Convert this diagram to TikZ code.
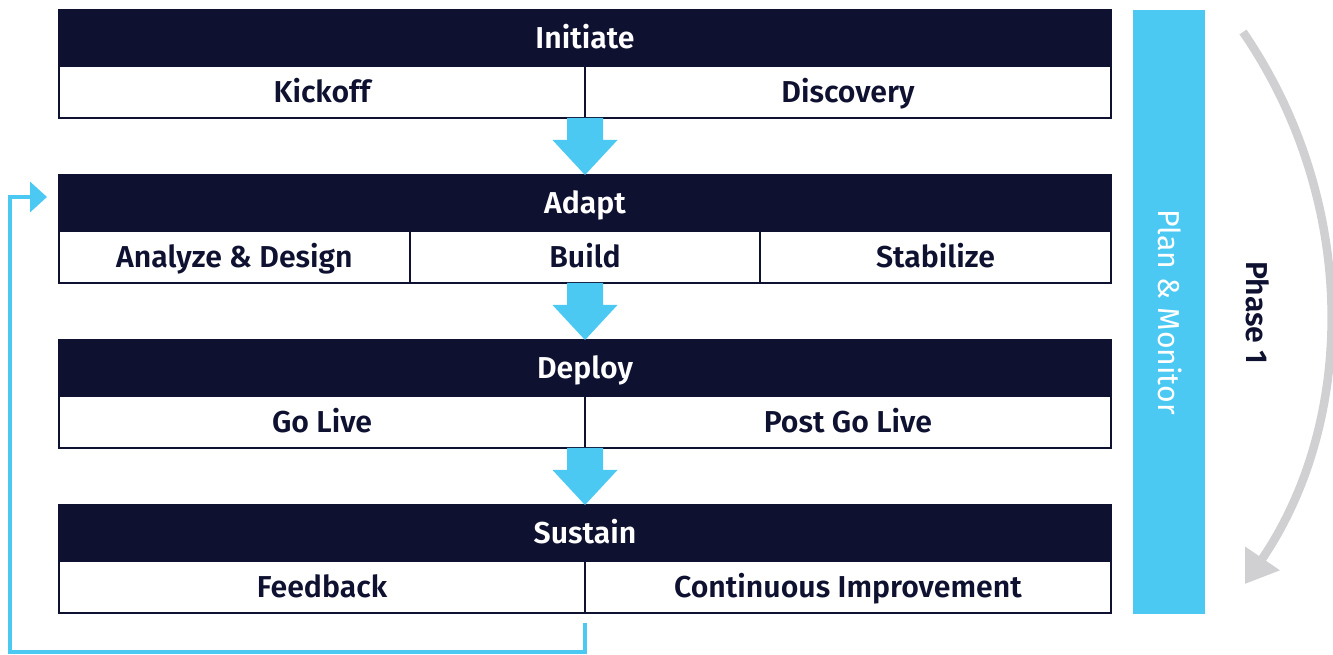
\documentclass[tikz,border=0pt]{standalone}
\usepackage{fontspec}
\setmainfont{Fira Sans}[BoldFont={Fira Sans SemiBold}]
\usetikzlibrary{positioning,calc,arrows.meta}
\definecolor{navy}{HTML}{0F1131}
\definecolor{skyblue}{HTML}{4CC9F3}
\definecolor{arcgray}{HTML}{D0D0D2}

\tikzset{
  stage/.style={fill=navy, draw=navy, line width=0.04cm, text=white,
    minimum width=21.04cm, minimum height=1.12cm, inner sep=0pt, outer sep=0pt,
    text height=11.9pt, text depth=0pt,
    font=\bfseries\fontsize{17.2}{19}\selectfont},
  cell/.style={draw=navy, line width=0.04cm, fill=white, text=navy,
    minimum height=1.04cm, inner sep=0pt, outer sep=0pt,
    text height=11.9pt, text depth=0pt,
    font=\bfseries\fontsize{17.2}{19}\selectfont},
  half/.style={cell, minimum width=10.52cm},
  third/.style={cell, minimum width=7.0133cm},
  flow/.style={fill=skyblue},
  loopline/.style={draw=skyblue, line width=0.075cm, miter limit=10,
    -{Triangle[length=0.34cm,width=0.6cm]}},
  bar/.style={fill=skyblue, text=white, minimum width=12.08cm, minimum height=1.44cm,
    inner sep=0pt, text height=11.9pt, text depth=0pt,
    font=\fontsize{17.2}{19}\selectfont},
  phasearc/.style={draw=arcgray, line width=0.17cm,
    -{Triangle[length=0.62cm,width=0.8cm]}}
}

\begin{document}
\begin{tikzpicture}[x=0.02cm, y=-0.02cm]
 \useasboundingbox (0,0) rectangle (1333,655);

 % stages
 \node[stage] (init) at (585,38) {Initiate};
 \node[half, below right=0 of init.south west] (kick) {Kickoff};
 \node[half, right=0 of kick] (disc) {Discovery};

 \node[stage] (adapt) at (585,203) {Adapt};
 \node[third, below right=0 of adapt.south west] (ana) {Analyze \& Design};
 \node[third, right=0 of ana] (build) {Build};
 \node[third, right=0 of build] (stab) {Stabilize};

 \node[stage] (deploy) at (585,368) {Deploy};
 \node[half, below right=0 of deploy.south west] (golive) {Go Live};
 \node[half, right=0 of golive] (post) {Post Go Live};

 \node[stage] (sustain) at (585,533) {Sustain};
 \node[half, below right=0 of sustain.south west] (feed) {Feedback};
 \node[half, right=0 of feed] (cont) {Continuous Improvement};

 % block arrows between stages
 \foreach \src/\dst in {kick.south east/adapt, build.south/deploy, golive.south east/sustain}
  \fill[flow] ($(\src)+(-18,0)$) -- ++(0,22) -- ++(-14.5,0) -- (\dst.north)
   -- ($(\src)+(32.5,22)$) -- ++(-14.5,0) -- ++(0,-22) -- cycle;

 % feedback loop back to Adapt
 \coordinate (fbtop) at ($(feed.south east)+(0,10)$);
 \coordinate (fbcorner) at (10,652);
 \coordinate (ret) at (47,197);
 \draw[loopline] (fbtop) |- (fbcorner) |- (ret);

 % side bar and phase arc
 \node[bar, rotate=-90] (pm) at (1169,312) {Plan \& Monitor};
 \node[rotate=-90, text=navy, font=\bfseries\fontsize{17.2}{19}\selectfont] (phase) at (1258,313) {Phase 1};
 \coordinate (arcstart) at (1243,32);
 \coordinate (arcend) at (1245,584);
 \draw[phasearc] (arcstart) .. controls (1359,201) and (1357,420) .. (arcend);

\end{tikzpicture}
\end{document}
